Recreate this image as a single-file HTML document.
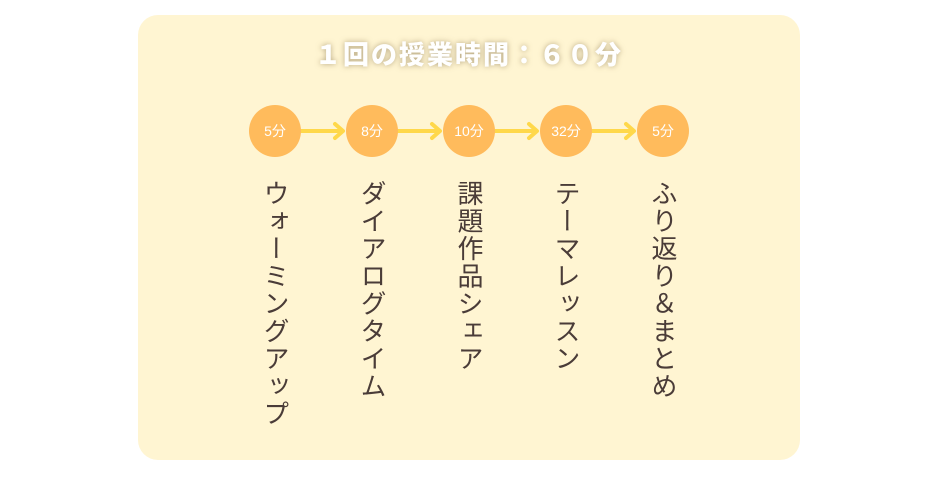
<!DOCTYPE html>
<html><head><meta charset="utf-8"><style>
body{margin:0;width:939px;height:500px;background:#fff;position:relative;overflow:hidden;font-family:"Liberation Sans","Noto Sans CJK JP",sans-serif}
.panel{position:absolute;left:138px;top:15px;width:662px;height:445px;background:#fff5d2;border-radius:20px}
.title{position:absolute;left:138px;width:662px;top:35px;text-align:center;color:#fff;font-weight:900;font-size:26px;letter-spacing:2px;text-shadow:0 0 6px rgba(120,100,60,.55)}
.c{position:absolute;width:52px;height:52px;border-radius:50%;background:#ffbb5c;color:#fff;font-size:14px;line-height:52px;text-align:center;top:105px}
.v{position:absolute;top:180px;writing-mode:vertical-rl;font-size:26px;color:#4a3c38;letter-spacing:1.5px;line-height:28px}
</style></head><body>
<div class="panel"></div>
<div class="title">１回の授業時間：６０分</div>
<svg style="position:absolute;left:0;top:0" width="939" height="500">
<g stroke="#ffd84a" stroke-width="4" fill="none" stroke-linecap="round" stroke-linejoin="round">
<line x1="301" y1="131" x2="342" y2="131"/><polyline points="335,124 343,131 335,138"/>
<line x1="398" y1="131" x2="439" y2="131"/><polyline points="432,124 440,131 432,138"/>
<line x1="495" y1="131" x2="536" y2="131"/><polyline points="529,124 537,131 529,138"/>
<line x1="592" y1="131" x2="633" y2="131"/><polyline points="626,124 634,131 626,138"/>
</g></svg>
<div class="c" style="left:249px">5分</div>
<div class="c" style="left:346px">8分</div>
<div class="c" style="left:443px">10分</div>
<div class="c" style="left:540px">32分</div>
<div class="c" style="left:637px">5分</div>
<div class="v" style="left:261px">ウォーミングアップ</div>
<div class="v" style="left:358px">ダイアログタイム</div>
<div class="v" style="left:455px">課題作品シェア</div>
<div class="v" style="left:552px">テーマレッスン</div>
<div class="v" style="left:649px">ふり返り＆まとめ</div>
</body></html>
